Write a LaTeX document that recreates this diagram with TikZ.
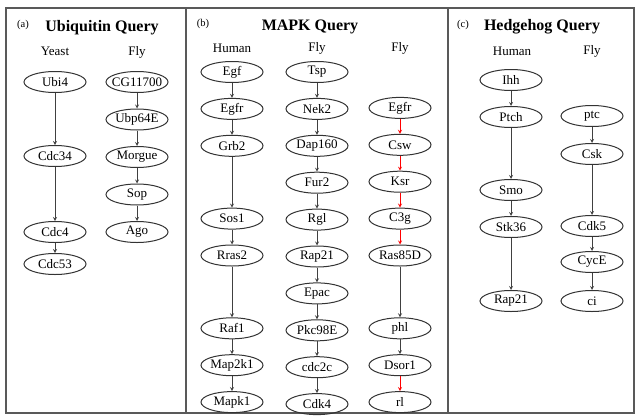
\documentclass[tikz,border=0pt]{standalone}
\usepackage{fontspec}
\setmainfont{Liberation Serif}
\usetikzlibrary{positioning,shapes.geometric}

\begin{document}
\begin{tikzpicture}[x=1pt,y=-1pt,
	nstyle/.style={ellipse, draw=black!80, line width=1pt, inner xsep=-8pt, inner ysep=0pt,
	minimum width=62pt, minimum height=21pt, font=\fontsize{13}{13}\selectfont},
	lbl/.style={font=\fontsize{13}{13}\selectfont},
	ttl/.style={font=\fontsize{16}{16}\selectfont\bfseries},
	tag/.style={font=\fontsize{10.5}{10.5}\selectfont},
	arr/.style={-stealth, black!75, thick},
	node distance=14.9pt
	]
	\useasboundingbox (0,0) rectangle (636,415);
	% frame and panels
	\draw[black!65, line width=1.5pt] (6,8) rectangle (634,413);
	\draw[black!65, line width=1.5pt] (186,8) -- (186,413);
	\draw[black!65, line width=1.5pt] (448,8) -- (448,413);
	
	% (a) ubiquitin
	\node[tag] (ta) at (23,25) {(a)};
	\node[ttl] (qa) at (102,28) {Ubiquitin Query};
	\node[lbl] (yeast) at (55,51) {Yeast};
	\node[lbl] (flya) at (137,52) {Fly};
	\node[nstyle] (ubi4) at (55,82) {Ubi4};
	\node[nstyle] (cdc34) [below=52pt of ubi4] {Cdc34};
	\node[nstyle] (cdc4) [below=54pt of cdc34] {Cdc4};
	\node[nstyle] (cdc53) [below=10pt of cdc4] {Cdc53};
	\node[nstyle] (cg) at (137,82) {CG11700};
	\node[nstyle] (ubp) [below=15.5pt of cg] {Ubp64E};
	\node[nstyle] (morgue) [below=15.5pt of ubp] {Morgue};
	\node[nstyle] (sop) [below=15.5pt of morgue] {Sop};
	\node[nstyle] (ago) [below=15.5pt of sop] {Ago};
	
	% (b) mapk
	\node[tag] (tb) at (203,24) {(b)};
	\node[ttl] (qb) at (310,27) {MAPK Query};
	\node[lbl] (humanb) at (232,48) {Human};
	\node[lbl] (flyb) at (317,48) {Fly};
	\node[lbl] (flyc) at (400,48) {Fly};
	\node[nstyle] (egf) at (232,72) {Egf};
	\node[nstyle] (egfr) [below=of egf] {Egfr};
	\node[nstyle] (grb2) [below=of egfr] {Grb2};
	\node[nstyle] (sos1) [below=50.8pt of grb2] {Sos1};
	\node[nstyle] (rras2) [below=of sos1] {Rras2};
	\node[nstyle] (raf1) [below=50.8pt of rras2] {Raf1};
	\node[nstyle] (mapkk) [below=of raf1] {Map2k1};
	\node[nstyle] (mapk) [below=of mapkk] {Mapk1};
	\node[nstyle] (tsp) at (317,72) {Tsp};
	\node[nstyle] (nek2) [below=of tsp] {Nek2};
	\node[nstyle] (dap) [below=of nek2] {Dap160};
	\node[nstyle] (fur2) [below=of dap] {Fur2};
	\node[nstyle] (rgl) [below=of fur2] {Rgl};
	\node[nstyle] (rap) [below=of rgl] {Rap21};
	\node[nstyle] (epac) [below=of rap] {Epac};
	\node[nstyle] (pkc) [below=of epac] {Pkc98E};
	\node[nstyle] (cdc2c) [below=of pkc] {cdc2c};
	\node[nstyle] (cdk4) [below=of cdc2c] {Cdk4};
	\node[nstyle] (egfr2) at (400,107.9) {Egfr};
	\node[nstyle] (csw) [below=of egfr2] {Csw};
	\node[nstyle] (ksr) [below=of csw] {Ksr};
	\node[nstyle] (c3g) [below=of ksr] {C3g};
	\node[nstyle] (ras) [below=of c3g] {Ras85D};
	\node[nstyle] (phl) [below=50.8pt of ras] {phl};
	\node[nstyle] (dsor) [below=of phl] {Dsor1};
	\node[nstyle] (rl) [below=of dsor] {rl};
	
	% (c) hedgehog
	\node[tag] (tc) at (463,25) {(c)};
	\node[ttl] (qc) at (542,27) {Hedgehog Query};
	\node[lbl] (humanc) at (512,51) {Human};
	\node[lbl] (flyd) at (592,51) {Fly};
	\node[nstyle] (ihh) at (511,80) {Ihh};
	\node[nstyle] (ptch) [below=15pt of ihh] {Ptch};
	\node[nstyle] (smo) [below=51pt of ptch] {Smo};
	\node[nstyle] (stk) [below=15pt of smo] {Stk36};
	\node[nstyle] (rap2) [below=52pt of stk] {Rap21};
	\node[nstyle] (ptc) at (592,116) {ptc};
	\node[nstyle] (csk) [below=16pt of ptc] {Csk};
	\node[nstyle] (cdk5) [below=50pt of csk] {Cdk5};
	\node[nstyle] (cyce) [below=14pt of cdk5] {CycE};
	\node[nstyle] (ci) [below=17pt of cyce] {ci};
	
	\draw[arr] (ubi4.south) to (cdc34.north);
	\draw[arr] (cdc34.south) to (cdc4.north);
	\draw[arr] (cdc4.south) to (cdc53.north);
	\draw[arr] (cg.south) to (ubp.north);
	\draw[arr] (ubp.south) to (morgue.north);
	\draw[arr] (morgue.south) to (sop.north);
	\draw[arr] (sop.south) to (ago.north);
	
	\draw[arr] (egf.south) to (egfr.north);
	\draw[arr] (egfr.south) to (grb2.north);
	\draw[arr] (grb2.south) to (sos1.north);
	\draw[arr] (sos1.south) to (rras2.north);
	\draw[arr] (rras2.south) to (raf1.north);
	\draw[arr] (raf1.south) to (mapkk.north);
	\draw[arr] (mapkk.south) to (mapk.north);
	\draw[arr] (tsp.south) to (nek2.north);
	\draw[arr] (nek2.south) to (dap.north);
	\draw[arr] (dap.south) to (fur2.north);
	\draw[arr] (fur2.south) to (rgl.north);
	\draw[arr] (rgl.south) to (rap.north);
	\draw[arr] (rap.south) to (epac.north);
	\draw[arr] (epac.south) to (pkc.north);
	\draw[arr] (pkc.south) to (cdc2c.north);
	\draw[arr] (cdc2c.south) to (cdk4.north);
	\draw[arr,red] (egfr2.south) to (csw.north);
	\draw[arr,red] (csw.south) to (ksr.north);
	\draw[arr,red] (ksr.south) to (c3g.north);
	\draw[arr,red] (c3g.south) to (ras.north);
	\draw[arr] (ras.south) to (phl.north);
	\draw[arr] (phl.south) to (dsor.north);
	\draw[arr,red] (dsor.south) to (rl.north);
	
	\draw[arr] (ihh.south) to (ptch.north);
	\draw[arr] (ptch.south) to (smo.north);
	\draw[arr] (smo.south) to (stk.north);
	\draw[arr] (stk.south) to (rap2.north);
	\draw[arr] (ptc.south) to (csk.north);
	\draw[arr] (csk.south) to (cdk5.north);
	\draw[arr] (cdk5.south) to (cyce.north);
	\draw[arr] (cyce.south) to (ci.north);
\end{tikzpicture}
\end{document}
